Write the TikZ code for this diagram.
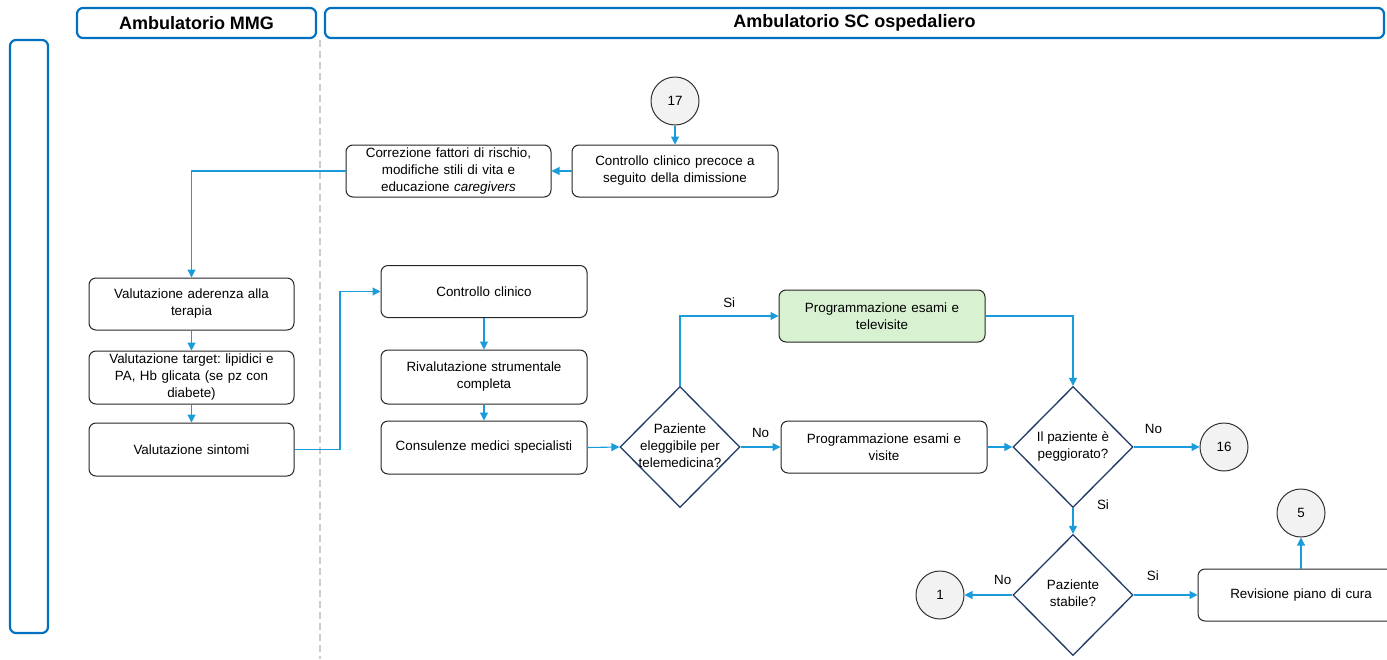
\documentclass[tikz,border=0pt]{standalone}
\usepackage{fontspec}
\setmainfont{Liberation Sans}
\usetikzlibrary{arrows.meta,shapes.geometric}
\definecolor{laneblue}{HTML}{0070C0}
\definecolor{flowblue}{HTML}{1A9BDC}
\definecolor{navy}{HTML}{1F3864}
\definecolor{lightgreen}{HTML}{D7F1D1}
\definecolor{circfill}{HTML}{F2F2F2}
\frenchspacing
% question text kept narrow so the diamond keeps its fixed size
\newcommand{\qtext}[1]{\makebox[40pt][c]{\begin{tabular}{@{}c@{}}#1\end{tabular}}}
\tikzset{
  lane/.style={draw=laneblue, line width=2.2pt, rounded corners=6pt},
  header/.style={lane, font=\fontsize{18}{20}\selectfont\bfseries, inner sep=0pt},
  stepbox/.style={draw=black!85, line width=1pt, rounded corners=7pt, fill=white,
    minimum width=206pt, minimum height=52pt, text width=196pt, align=center,
    inner sep=0pt, font=\fontsize{13.4}{17}\selectfont},
  decision/.style={diamond, draw=navy, line width=1.3pt, fill=white, aspect=1,
    minimum width=120pt, minimum height=121pt, inner sep=0pt,
    font=\fontsize{13.4}{17}\selectfont},
  connector/.style={circle, draw=black!80, line width=1pt, fill=circfill,
    minimum size=48pt, inner sep=0pt, font=\fontsize{13.4}{15}\selectfont},
  flow/.style={draw=flowblue, line width=1.1pt, -{Triangle[length=8pt,width=8pt]}},
  lbl/.style={font=\fontsize{13.4}{15}\selectfont, inner sep=0pt}
}
\begin{document}
\begin{tikzpicture}[x=1pt,y=-1pt]
\useasboundingbox (0,0) rectangle (1387,659);

% swimlane frame
\draw[lane] (10,40) rectangle (48,633);
\node[header, minimum width=239pt, minimum height=30pt] (hmmg) at (196.5,23) {Ambulatorio MMG};
\node[header, minimum width=1059pt, minimum height=30pt] (hsc) at (854.5,23) {Ambulatorio SC ospedaliero};
\draw[black!20, line width=2pt, dash pattern=on 7pt off 4pt] (320,40) -- (320,659);

% nodes
\node[connector] (c17) at (675,101) {17};
\node[stepbox] (precoce) at (675,171) {Controllo clinico precoce a\\seguito della dimissione};
\node[stepbox, minimum width=205pt] (correz) at (448.5,171) {Correzione fattori di rischio,\\modifiche stili di vita e\\educazione \textit{caregivers}};

\node[stepbox, minimum width=205pt] (aderenza) at (191.5,304) {Valutazione aderenza alla\\terapia};
\node[stepbox, minimum width=205pt, minimum height=53pt] (target) at (191.5,377.5) {Valutazione target: lipidici e\\PA, Hb glicata (se pz con\\diabete)};
\node[stepbox, minimum width=205pt, minimum height=53pt] (sintomi) at (191.5,449.5) {Valutazione sintomi};

\node[stepbox] (clinico) at (484,291.5) {Controllo clinico};
\node[stepbox, minimum height=54pt] (rival) at (484,377) {Rivalutazione strumentale\\completa};
\node[stepbox, minimum height=53pt] (consul) at (484,447.5) {Consulenze medici specialisti};

\node[decision] (eleg) at (680,447) {\qtext{Paziente\\eleggibile per\\telemedicina?}};
\node[stepbox, fill=lightgreen] (tele) at (882,316) {Programmazione esami e\\televisite};
\node[stepbox] (visite) at (884,447) {Programmazione esami e\\visite};

\node[decision] (pegg) at (1073,447) {\qtext{Il paziente è\\peggiorato?}};
\node[connector] (c16) at (1224,447) {16};

\node[decision] (stab) at (1073,595) {\qtext{Paziente\\stabile?}};
\node[connector] (c1) at (940,595) {1};

\begin{scope}
  \clip (0,0) rectangle (1387,659);
  \node[stepbox, minimum width=206pt] (revis) at (1301,595) {Revisione piano di cura};
\end{scope}
\node[connector] (c5) at (1301,513) {5};

% connectors
\draw[flow] (c17) -- (precoce);
\draw[flow] (precoce) -- (correz);
\draw[flow] (correz.west) -| (aderenza.north);
\draw[flow] (aderenza) -- (target);
\draw[flow] (target) -- (sintomi);
\draw[flow] (sintomi.east) -- (340,449.5) |- (clinico.west);
\draw[flow] (clinico) -- (rival);
\draw[flow] (rival) -- (consul);
\draw[flow] (consul.east) -- (eleg.west);

\draw[flow] (eleg.north) |- (tele.west) node[lbl, pos=0.75, above=8pt] {Si};
\draw[flow] (eleg.east) -- (visite.west) node[lbl, midway, above=9pt] {No};
\draw[flow] (tele.east) -| (pegg.north);
\draw[flow] (visite.east) -- (pegg.west);
\draw[flow] (pegg.east) -- (c16.west) node[lbl, pos=0.3, above=13pt] {No};
\draw[flow] (pegg.south) -- (stab.north);
\node[lbl] (si2) at (1103,505) {Si};
\draw[flow] (stab.west) -- (c1.east) node[lbl, pos=0.2, above=10pt] {No};
\draw[flow] (stab.east) -- (revis.west) node[lbl, pos=0.3, above=14pt] {Si};
\draw[flow] (revis.north) -- (c5.south);
\end{tikzpicture}
\end{document}
